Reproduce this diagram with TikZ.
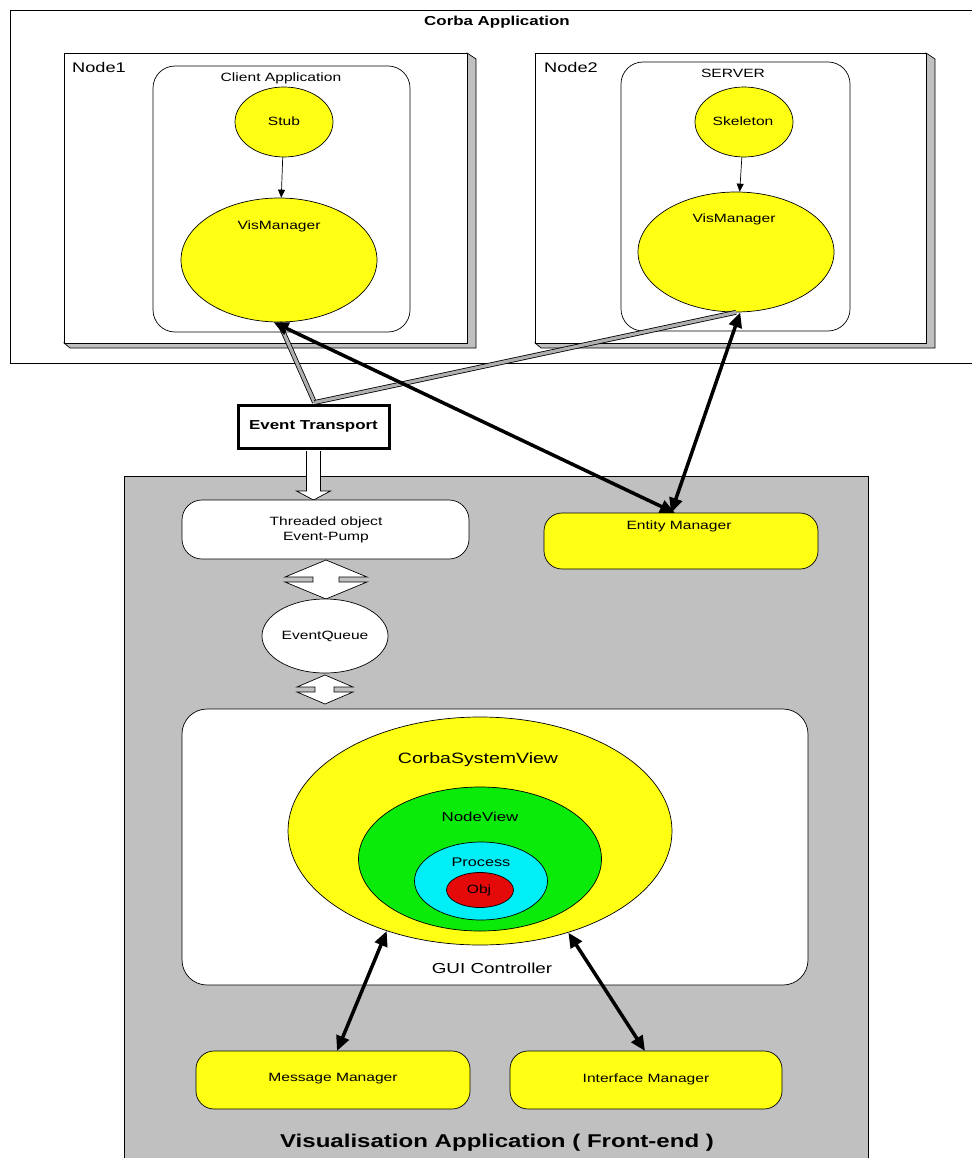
\documentclass[tikz,border=0pt]{standalone}
\usepackage{fontspec}
\setmainfont{Liberation Sans}[FakeStretch=1.3]
\usetikzlibrary{shapes.geometric,arrows.meta,calc}
\definecolor{yel}{RGB}{255,255,20}
\definecolor{grn}{RGB}{10,235,10}
\definecolor{cyn}{RGB}{0,238,245}
\definecolor{rd}{RGB}{228,10,10}
\definecolor{panel}{RGB}{192,192,192}
\definecolor{lgray}{RGB}{175,175,175}
\newcommand{\fs}[1]{\fontsize{#1}{#1}\selectfont}
\begin{document}
\begin{tikzpicture}[x=1pt,y=-1pt,
  ell/.style={ellipse, draw, inner sep=0pt, line width=0.7pt},
  txt/.style={inner sep=0pt, font=\fs{12}},
  box/.style={draw, inner sep=0pt, outer sep=0pt, anchor=north west, line width=0.7pt},
  rbox/.style={box, rounded corners=#1},
  thin arrow/.style={line width=0.7pt, -{Triangle[length=8pt,width=7pt]}},
  big arrow/.style={line width=3.5pt, {Triangle[length=15pt,width=13pt]}-{Triangle[length=15pt,width=13pt]}},
  gray link/.style={draw=black, line width=0.8pt, double=lgray, double distance=3.2pt}
]
\useasboundingbox (0,0) rectangle (971,1158);
\fill[white] (0,0) rectangle (971,1158);

% ---------- Corba Application ----------
\node[box, minimum width=975, minimum height=353] (corba) at (10,10) {};
\node[txt, font=\fs{13}\bfseries] (corbat) at (497,22) {Corba Application};

% Node1 with shadow
\draw[fill=panel, line width=0.7pt] (467,53) -- (476,59) -- (476,348) -- (70,348) -- (64,343) -- (467,343) -- cycle;
\node[box, fill=white, minimum width=403, minimum height=290] (node1) at (64,53) {};
\node[txt, font=\fs{14}, anchor=west] (node1t) at (72,67) {Node1};
\node[rbox=22, minimum width=257, minimum height=266] (client) at (153,66) {};
\node[txt] (clientt) at (281,78) {Client Application};
\node[ell, fill=yel, minimum width=98, minimum height=70] (stub) at (284,122) {};
\node[txt] (stubt) at (284,121) {Stub};
\node[ell, fill=yel, minimum width=196, minimum height=124] (vm1) at (279,260) {};
\node[txt] (vm1t) at (279,226) {VisManager};

% Node2 with shadow
\draw[fill=panel, line width=0.7pt] (926,53) -- (935,59) -- (935,348) -- (541,348) -- (535,343) -- (926,343) -- cycle;
\node[box, fill=white, minimum width=391, minimum height=290] (node2) at (535,53) {};
\node[txt, font=\fs{14}, anchor=west] (node2t) at (544,67) {Node2};
\node[rbox=22, minimum width=229, minimum height=269] (server) at (621,62) {};
\node[txt] (servert) at (733,73) {SERVER};
\node[ell, fill=yel, minimum width=98, minimum height=70] (skel) at (744,122) {};
\node[txt] (skelt) at (743,121) {Skeleton};
\node[ell, fill=yel, minimum width=196, minimum height=120] (vm2) at (736,252) {};
\node[txt] (vm2t) at (734,219) {VisManager};

\draw[thin arrow] (stub) -- (vm1);
\draw[thin arrow] (skel) -- (vm2);

% ---------- Event Transport ----------
\node[draw, line width=3pt, fill=white, minimum width=151, minimum height=43, inner sep=0pt, font=\fs{13}\bfseries] (et) at (313.5,426.5) {Event Transport};

% ---------- Visualisation Application panel ----------
\node[box, fill=panel, minimum width=744, minimum height=700] (vis) at (124,476) {};
\node[txt, font=\fs{18.5}\bfseries] (vist) at (497,1143) {Visualisation Application ( Front-end )};

% block arrow Event Transport -> Event-Pump
\draw[fill=white, line width=0.7pt] ($(et.south)+(-7,1.5)$) -- ++(0,40) -- ++(-10,0) -- ++(17,9) -- ++(17,-9) -- ++(-10,0) -- ++(0,-40);

\node[rbox=20, fill=white, minimum width=287, minimum height=59] (pump) at (182,500) {};
\node[txt, align=center, font=\fs{12}\linespread{1.25}\selectfont] (pumpt) at (326,530) {Threaded object\\Event-Pump};

\node[rbox=18, fill=yel, minimum width=274, minimum height=56] (em) at (544,513) {};
\node[txt] (emt) at (679,526) {Entity Manager};

% double block arrows
\draw[fill=white, line width=0.7pt] (326,560) -- (367,577) -- (339,577) -- (339,582) -- (367,582) -- (326,599) -- (285,582) -- (313,582) -- (313,577) -- (285,577) -- cycle;
\node[ell, fill=white, minimum width=126, minimum height=74] (eq) at (325,636) {};
\node[txt] (eqt) at (325,636) {EventQueue};
\draw[fill=white, line width=0.7pt] (325,675) -- (353,687) -- (334,687) -- (334,692) -- (353,692) -- (325,704) -- (297,692) -- (315,692) -- (315,687) -- (297,687) -- cycle;

% GUI Controller
\node[rbox=25, fill=white, minimum width=626, minimum height=276] (gui) at (182,709) {};
\node[txt, font=\fs{14.5}] (guit) at (492,968) {GUI Controller};
\node[ell, fill=yel, minimum width=384, minimum height=228] (csv) at (480,831) {};
\node[txt, font=\fs{15}] (csvt) at (478,760) {CorbaSystemView};
\node[ell, fill=grn, minimum width=243, minimum height=144] (nv) at (480,859) {};
\node[txt, font=\fs{13}] (nvt) at (480,817) {NodeView};
\node[ell, fill=cyn, minimum width=133, minimum height=78] (proc) at (481,881) {};
\node[txt, font=\fs{12.5}] (proct) at (481,862) {Process};
\node[ell, fill=rd, minimum width=67, minimum height=35] (obj) at (480,890) {};
\node[txt] (objt) at (479,890) {Obj};

\node[rbox=18, fill=yel, minimum width=274, minimum height=58] (mm) at (196,1051) {};
\node[txt] (mmt) at (333,1079) {Message Manager};
\node[rbox=18, fill=yel, minimum width=272, minimum height=58] (im) at (510,1051) {};
\node[txt] (imt) at (646,1079) {Interface Manager};

% ---------- connectors ----------
\draw[gray link] (vm1.south) -- ($(et.north)+(1,-1)$);
\draw[gray link] (vm2.south) -- ($(et.north)+(1,-1)$);
\draw[big arrow] (vm1.265) -- ($(em.north)+(-6,0)$);
\draw[big arrow] (vm2.274) -- ($(em.north)+(-10,0)$);
\draw[big arrow] (csv.227) -- ($(mm.north)+(4,0)$);
\draw[big arrow] (csv.311) -- ($(im.north)+(-1,0)$);
\end{tikzpicture}
\end{document}
